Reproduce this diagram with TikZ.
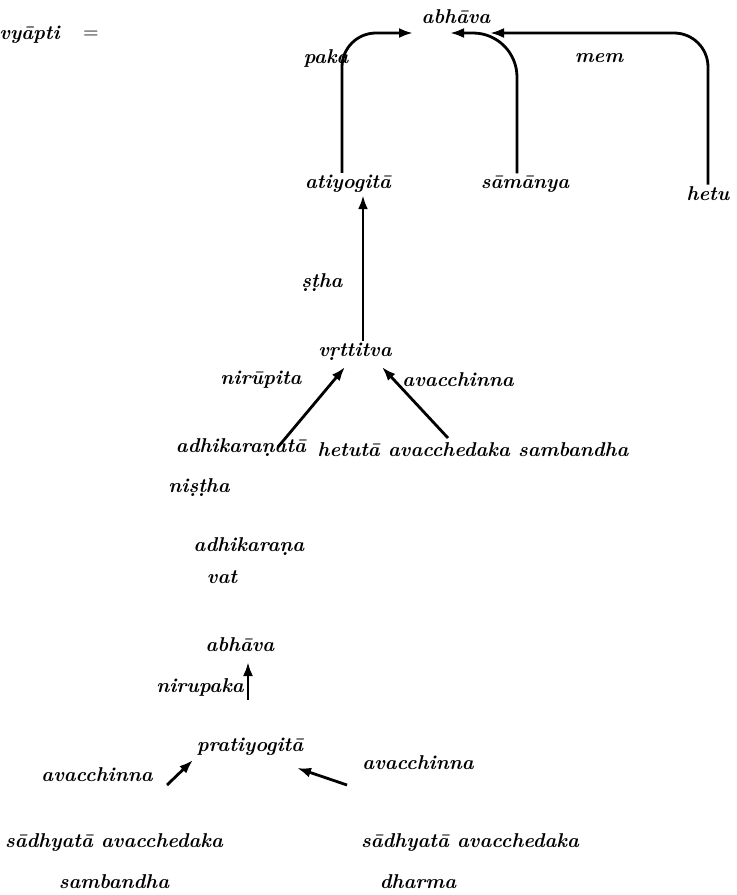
\documentclass[tikz,border=0pt]{standalone}
\usetikzlibrary{arrows.meta, calc}

\begin{document}
\begin{tikzpicture}[
    x=0.5pt, y=-0.5pt,
    lbl/.style={inner sep=1pt, font=\bfseries\itshape},
    flow/.style={-{Latex[length=7pt,width=5pt]}, line width=1.4pt},
]
\useasboundingbox (0,0) rectangle (736,895);
% top row
\node[lbl, anchor=west] (vyapti) at (-3,35) {vy\=apti};
\node[lbl] (eq)     at (91,35)  {$=$};
\node[lbl] (abhA)   at (456,17) {abh\=ava};
\node[lbl] (paka)   at (326,58) {paka};
\node[lbl] (mem)    at (599,58) {mem};
\node[lbl] (atiy)   at (348,184) {atiyogit\=a};
\node[lbl] (samanya) at (525,184) {s\=am\=anya};
\node[lbl] (hetu)   at (708,194) {hetu};
% middle
\node[lbl] (stha)   at (322,283) {\d{s}\d{t}ha};
\node[lbl] (vrtti)  at (355,352) {v\d{r}ttitva};
\node[lbl] (nirupita) at (261,380) {nir\=upita};
\node[lbl] (avacA)  at (458,380) {avacchinna};
\node[lbl] (adhikt) at (241,448) {adhikara\d{n}at\=a};
\node[lbl] (hetuta) at (473,450) {hetut\=a avacchedaka sambandha};
\node[lbl] (nistha) at (199,488) {ni\d{s}\d{t}ha};
\node[lbl] (adhik)  at (249,547) {adhikara\d{n}a};
\node[lbl] (vat)    at (222,577) {vat};
% bottom
\node[lbl] (abhB)   at (240,645) {abh\=ava};
\node[lbl] (nirupaka) at (200,687) {nirupaka};
\node[lbl] (prati)  at (250,747) {pratiyogit\=a};
\node[lbl] (avacB)  at (97,775)  {avacchinna};
\node[lbl] (avacC)  at (418,763) {avacchinna};
\node[lbl] (sadA)   at (114,843) {s\=adhyat\=a avacchedaka};
\node[lbl] (samb)   at (114,882) {sambandha};
\node[lbl] (sadB)   at (470,843) {s\=adhyat\=a avacchedaka};
\node[lbl] (dharma) at (418,882) {dharma};

\draw[flow, rounded corners=17pt] ($(atiy.north)+(-6,0)$) |- ($(abhA)+(-43,16)$);
\draw[flow, rounded corners=22pt] ($(samanya.north)+(-8,0)$) |- ($(abhA)+(-6,16)$);
\draw[flow, rounded corners=17pt] (hetu.north) |- ($(abhA)+(34,16)$);
\coordinate (v0) at ($(vrtti.north)+(8,0)$);
\draw[flow] (v0) -- (v0 |- atiy.south);
\draw[flow] ($(adhikt)+(37,-1)$) -- ($(vrtti)+(-10,15)$);
\draw[flow] ($(hetuta)+(-25,-12)$) -- ($(vrtti)+(27,15)$);
\draw[flow] ($(prati)+(-2,-47)$) -- ($(abhB)+(8,17)$);
\draw[flow] ($(sadA)+(53,-58)$) -- ($(prati)+(-57,13)$);
\draw[flow] ($(sadB)+(-123,-58)$) -- ($(prati)+(47,21)$);
\end{tikzpicture}
\end{document}
